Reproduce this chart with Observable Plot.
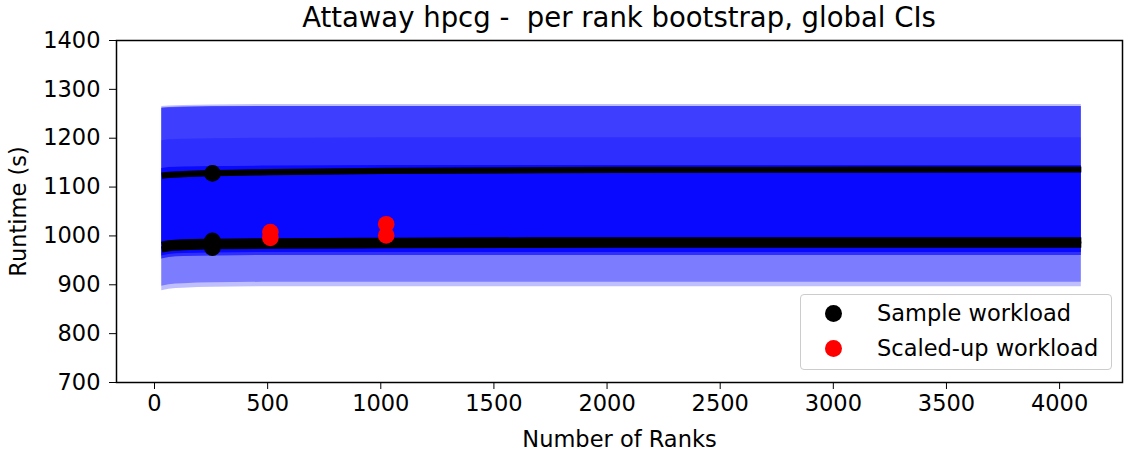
<!DOCTYPE html>
<html>
<head>
<meta charset="utf-8">
<script src="https://cdn.jsdelivr.net/npm/d3@7"></script>
<script src="https://cdn.jsdelivr.net/npm/@observablehq/plot@0.6"></script>
<style>
  html, body { margin: 0; padding: 0; background: #fff; }
  #wrap { position: relative; width: 1127px; height: 452px; font-family: "DejaVu Sans", sans-serif; }
  #title { position: absolute; left: 116px; width: 1006px; top: 1px; text-align: center; font-size: 27.5px; color: #000; white-space: pre; }
  #chart { position: absolute; left: 0; top: 36px; }
  #legend { position: absolute; left: 800px; top: 294px; width: 310px; height: 74px; border: 1px solid #cccccc; border-radius: 4px; background: rgba(255,255,255,0.8); box-sizing: content-box; }
  .item { position: absolute; left: 0; height: 24px; display: flex; align-items: center; font-size: 22.5px; color: #000; white-space: nowrap; }
  .sw { position: absolute; left: 24px; width: 17px; height: 17px; border-radius: 50%; }
  .lab { position: absolute; left: 76px; }
</style>
</head>
<body>
<div id="wrap">
  <div id="title"></div>
  <div id="chart"></div>
  <div id="legend"></div>
</div>
<script>
// ---- data ----
const titleText = "Attaway hpcg -  per rank bootstrap, global CIs";
const xLabel = "Number of Ranks";
const yLabel = "Runtime (s)";
const xTicks = [0, 500, 1000, 1500, 2000, 2500, 3000, 3500, 4000];
const yTicks = [700, 800, 900, 1000, 1100, 1200, 1300, 1400];

const ranks = [32, 64, 128, 256, 512, 1024, 2048, 4096];

// confidence bands (lower / upper edges)
const outerLo = [888, 891, 893, 895, 896, 896, 896, 896];
const outerHi = [1265, 1266, 1267, 1268, 1269, 1269, 1269, 1269];
const wideLo  = [897, 900, 902, 904, 905, 905, 905, 905];
const wideHi  = [1261, 1262, 1263, 1264, 1265, 1265, 1265, 1265];
const midLo   = [953, 956, 958, 959, 960, 960, 960, 960];
const midHi   = [1262, 1263, 1264, 1265, 1265, 1265, 1265, 1265];
const innerLo = [953, 956, 958, 959, 960, 960, 960, 960];
const innerHi = [1195, 1197, 1198, 1199, 1200, 1201, 1201, 1201];
const coreLo  = [959, 962, 964, 965, 966, 966, 966, 966];
const coreHi  = [1138, 1140, 1141, 1142, 1143, 1144, 1144, 1144];

// fitted curves
const upperFit  = [1123.5, 1125, 1126.5, 1128.5, 1130.5, 1133, 1135, 1136];
const lowerFitA = [972, 975, 977, 979, 980, 981, 982, 982];
const lowerFitB = [982, 985, 987, 988, 989, 990, 991, 991];

// points
const sampleRanks = [256, 256, 256];
const sampleRuntimes = [976, 990, 1128];
const scaledRanks = [512, 512, 1024, 1024];
const scaledRuntimes = [996, 1008, 1001, 1024];

const legendLabels = ["Sample workload", "Scaled-up workload"];

// ---- build ----
const table = (lo, hi) => ranks.map((r, i) => ({rank: r, lo: lo[i], hi: hi[i]}));
const series = (vals) => ranks.map((r, i) => ({rank: r, v: vals[i]}));
const pts = (xs, ys) => xs.map((x, i) => ({rank: x, v: ys[i]}));

const bandSpecs = [
  [outerLo, outerHi, 0.25],
  [wideLo, wideHi, 0.35],
  [midLo, midHi, 0.5],
  [innerLo, innerHi, 0.25],
  [coreLo, coreHi, 0.8]
];

const marks = [];
for (const [lo, hi, op] of bandSpecs) {
  marks.push(Plot.areaY(table(lo, hi), {x: "rank", y1: "lo", y2: "hi", fill: "#0000ff", fillOpacity: op, curve: "monotone-x"}));
}
for (const vals of [upperFit, lowerFitA, lowerFitB]) {
  marks.push(Plot.line(series(vals), {x: "rank", y: "v", stroke: "black", strokeWidth: 6.2, strokeLinecap: "butt", curve: "monotone-x"}));
}
marks.push(Plot.dot(pts(sampleRanks, sampleRuntimes), {x: "rank", y: "v", r: 8.3, fill: "black", stroke: "none"}));
marks.push(Plot.dot(pts(scaledRanks, scaledRuntimes), {x: "rank", y: "v", r: 8.3, fill: "red", stroke: "none"}));
marks.push(Plot.axisX({ticks: xTicks, tickSize: 7, tickPadding: 6, tickFormat: d => String(d), label: xLabel, labelAnchor: "center", labelArrow: "none", labelOffset: 64, fill: "black", stroke: "black"}));
marks.push(Plot.axisY({ticks: yTicks, tickSize: 7, tickPadding: 9, tickFormat: d => String(d), label: yLabel, labelAnchor: "center", labelArrow: "none", labelOffset: 106, fill: "black", stroke: "black"}));
marks.push(Plot.frame({stroke: "black", strokeWidth: 1.5}));

const chart = Plot.plot({
  width: 1127,
  height: 416,
  marginLeft: 116,
  marginRight: 5,
  marginTop: 4,
  marginBottom: 70,
  x: {domain: [-168, 4278]},
  y: {domain: [700, 1400]},
  style: {fontFamily: "DejaVu Sans, sans-serif", fontSize: "22.5px", color: "black", background: "white", overflow: "visible"},
  marks
});
document.getElementById("chart").appendChild(chart);
document.getElementById("title").textContent = titleText;

const legend = document.getElementById("legend");
const colors = ["black", "red"];
legendLabels.forEach((lab, i) => {
  const item = document.createElement("div");
  item.className = "item";
  item.style.top = (6 + i * 35) + "px";
  const sw = document.createElement("span");
  sw.className = "sw";
  sw.style.background = colors[i];
  const t = document.createElement("span");
  t.className = "lab";
  t.textContent = lab;
  item.appendChild(sw);
  item.appendChild(t);
  legend.appendChild(item);
});
</script>
</body>
</html>
